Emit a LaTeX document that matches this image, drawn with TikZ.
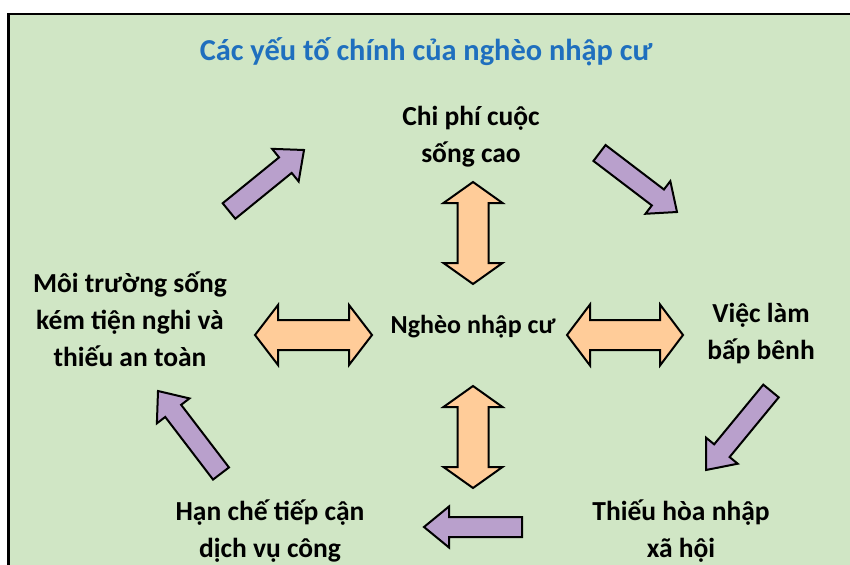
\documentclass[tikz,border=0pt]{standalone}
\usepackage{fontspec}
\setmainfont{Carlito}
\definecolor{bggreen}{RGB}{208,230,197}
\definecolor{arrpurple}{RGB}{185,160,204}
\definecolor{arrorange}{RGB}{255,204,153}
\definecolor{titleblue}{RGB}{31,111,190}
\newcommand\blockarrow[8]{%
  \pgfmathsetmacro\bdx{(#3)-(#1)}%
  \pgfmathsetmacro\bdy{(#4)-(#2)}%
  \pgfmathsetmacro\bL{veclen(\bdx,\bdy)}%
  \pgfmathsetmacro\bux{\bdx/\bL}%
  \pgfmathsetmacro\buy{\bdy/\bL}%
  \pgfmathsetmacro\bsx{-\buy*(#5)/2}%
  \pgfmathsetmacro\bsy{\bux*(#5)/2}%
  \pgfmathsetmacro\bwx{-\buy*(#6)/2}%
  \pgfmathsetmacro\bwy{\bux*(#6)/2}%
  \pgfmathsetmacro\bbx{(#3)-\bux*(#7)}%
  \pgfmathsetmacro\bby{(#4)-\buy*(#7)}%
  \draw[#8] ({#1+(\bsx)},{#2+(\bsy)}) -- ({\bbx+(\bsx)},{\bby+(\bsy)})
    -- ({\bbx+(\bwx)},{\bby+(\bwy)}) -- (#3,#4)
    -- ({\bbx-(\bwx)},{\bby-(\bwy)}) -- ({\bbx-(\bsx)},{\bby-(\bsy)})
    -- ({#1-(\bsx)},{#2-(\bsy)}) -- cycle;%
}
\newcommand\dblarrow[8]{%
  \pgfmathsetmacro\bdx{(#3)-(#1)}%
  \pgfmathsetmacro\bdy{(#4)-(#2)}%
  \pgfmathsetmacro\bL{veclen(\bdx,\bdy)}%
  \pgfmathsetmacro\bux{\bdx/\bL}%
  \pgfmathsetmacro\buy{\bdy/\bL}%
  \pgfmathsetmacro\bsx{-\buy*(#5)/2}%
  \pgfmathsetmacro\bsy{\bux*(#5)/2}%
  \pgfmathsetmacro\bwx{-\buy*(#6)/2}%
  \pgfmathsetmacro\bwy{\bux*(#6)/2}%
  \pgfmathsetmacro\bbx{(#3)-\bux*(#7)}%
  \pgfmathsetmacro\bby{(#4)-\buy*(#7)}%
  \pgfmathsetmacro\bax{(#1)+\bux*(#7)}%
  \pgfmathsetmacro\bay{(#2)+\buy*(#7)}%
  \draw[#8] (#1,#2) -- ({\bax+(\bwx)},{\bay+(\bwy)}) -- ({\bax+(\bsx)},{\bay+(\bsy)})
    -- ({\bbx+(\bsx)},{\bby+(\bsy)}) -- ({\bbx+(\bwx)},{\bby+(\bwy)}) -- (#3,#4)
    -- ({\bbx-(\bwx)},{\bby-(\bwy)}) -- ({\bbx-(\bsx)},{\bby-(\bsy)})
    -- ({\bax-(\bsx)},{\bay-(\bsy)}) -- ({\bax-(\bwx)},{\bay-(\bwy)}) -- cycle;%
}
\begin{document}
\begin{tikzpicture}[x=1pt,y=-1pt,
  label/.style={font=\bfseries\fontsize{27.5}{37}\selectfont, align=center, inner sep=0pt},
  purplearrow/.style={fill=arrpurple, draw=black, line width=2pt, line join=miter},
  orangearrow/.style={fill=arrorange, draw=black, line width=2pt, line join=miter}]
\useasboundingbox (0,0) rectangle (850,564);
\fill[bggreen] (9,14) rectangle (855,570);
\draw[line width=2.5pt, line join=miter] (8.5,570) -- (8.5,14) -- (855,14);
\node[label, text=titleblue, font=\bfseries\fontsize{30.4}{36}\selectfont] (title) at (426,52) {Các yếu tố chính của nghèo nhập cư};
\node[label] (cost) at (471,137) {Chi phí cuộc\\sống cao};
\node[label, font=\bfseries\fontsize{26}{37}\selectfont] (core) at (473,327) {Nghèo nhập cư};
\node[label] (job) at (761,334) {Việc làm\\bấp bênh};
\node[label] (integ) at (681,531) {Thiếu hòa nhập\\xã hội};
\node[label] (serv) at (270,531) {Hạn chế tiếp cận\\dịch vụ công};
\node[label] (env) at (130,319) {Môi trường sống\\kém tiện nghi và\\thiếu an toàn};
% purple cycle arrows
\blockarrow{229}{211}{304}{150}{20}{42}{24}{purplearrow}
\blockarrow{599.5}{153}{677}{212}{20}{41}{24}{purplearrow}
\blockarrow{771}{391}{706}{470}{20}{41}{25}{purplearrow}
\blockarrow{522}{527}{424}{527}{20}{41}{25}{purplearrow}
\blockarrow{221}{473.5}{158}{391}{20}{41}{25}{purplearrow}
% orange double arrows
\dblarrow{473}{182}{473}{284}{31}{59}{21}{orangearrow}
\dblarrow{473}{386}{473}{488}{31}{59}{21}{orangearrow}
\dblarrow{255}{335}{372}{335}{30}{60}{23}{orangearrow}
\dblarrow{567}{335}{683}{335}{30}{61}{23}{orangearrow}
\end{tikzpicture}
\end{document}
